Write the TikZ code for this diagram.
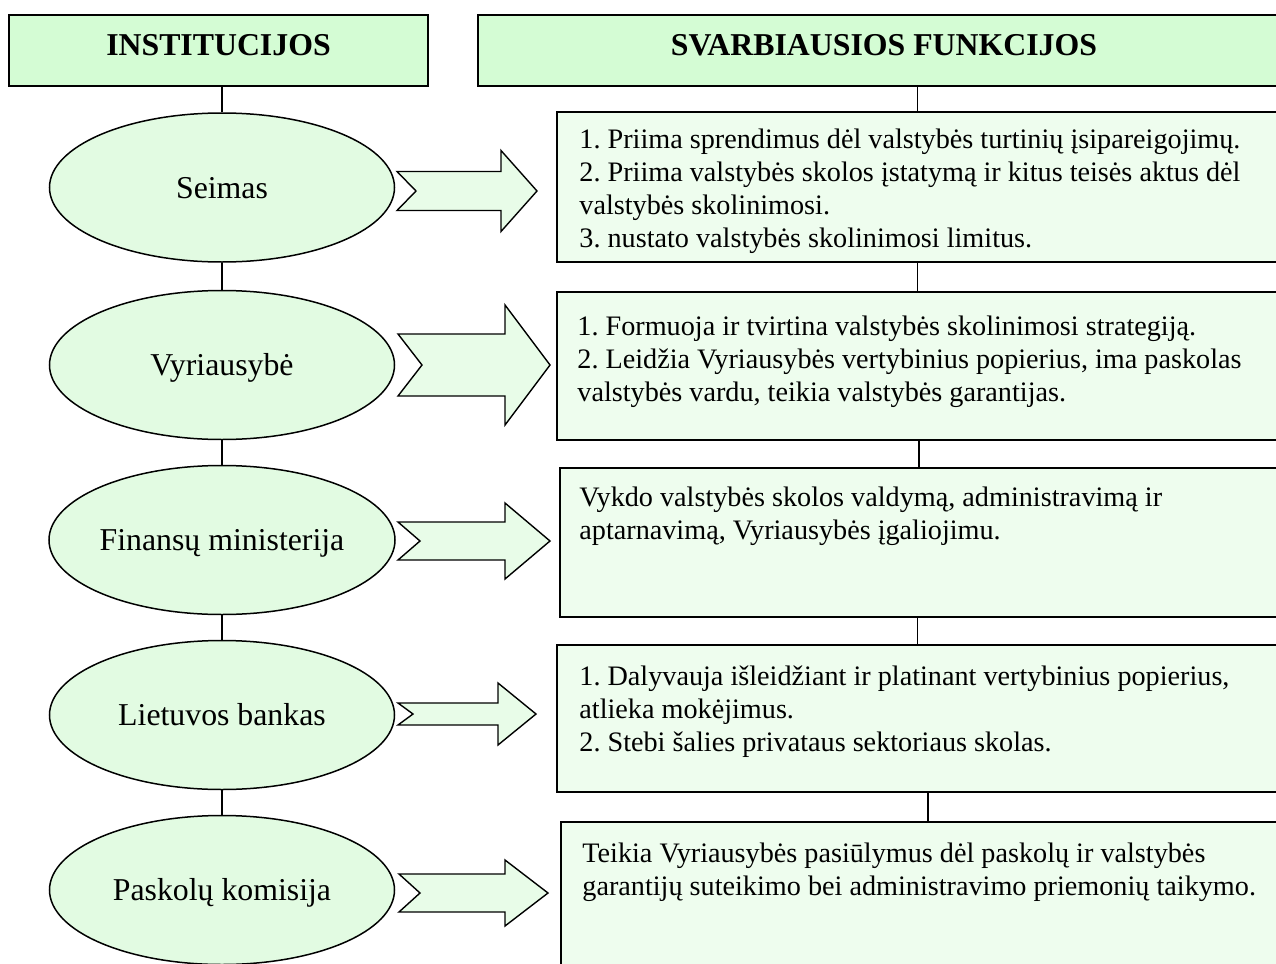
\documentclass[tikz,border=0pt]{standalone}
\usepackage{fontspec}
\setmainfont{Liberation Serif}
\usetikzlibrary{shapes.geometric}

\definecolor{headfill}{RGB}{212,252,212}
\definecolor{instfill}{RGB}{226,251,226}
\definecolor{funcfill}{RGB}{238,253,238}
\definecolor{arrowfill}{RGB}{232,252,232}

% notched block arrow: left x, notch x, head x, tip x, centre y, body half, head half
\newcommand{\funcarrow}[7]{%
  \draw[blockarrow] (#1,#5-#6) -- (#3,#5-#6) -- (#3,#5-#7) -- (#4,#5) -- (#3,#5+#7)
    -- (#3,#5+#6) -- (#1,#5+#6) -- (#2,#5) -- cycle;}

\frenchspacing
\begin{document}
\begin{tikzpicture}[x=0.5pt, y=-0.5pt,
    head/.style = {draw, line width=1.2pt, fill=headfill, inner sep=0pt, minimum height=35.5pt,
      text depth=6pt, font=\fontsize{15.9}{18}\selectfont\bfseries},
    inst/.style = {draw, ellipse, line width=0.75pt, fill=instfill, inner sep=0pt,
      minimum width=172.5pt, minimum height=74.5pt, text height=10.5pt, text depth=0pt,
      font=\fontsize{15.9}{18}\selectfont},
    funcbox/.style = {draw, line width=1pt, fill=funcfill, inner sep=0pt},
    functext/.style = {anchor=north west, inner sep=0pt, align=left,
      font=\fontsize{14.1}{16.5}\selectfont},
    blockarrow/.style = {draw, line width=0.7pt, fill=arrowfill, line join=miter},
    link/.style = {line width=0.75pt}]
  \clip (0,0) rectangle (1276,964);

  % headers
  \node[head, minimum width=209.5pt] (hinst) at (218.5,50.5) {INSTITUCIJOS};
  \node[head, minimum width=406pt] (hfunc) at (884,50.5) {SVARBIAUSIOS FUNKCIJOS};

  % institutions
  \node[inst] (seimas) at (222,187.5) {Seimas};
  \node[inst] (vyr) at (222,365) {Vyriausybė};
  \node[inst] (finmin) at (222,540) {Finansų ministerija};
  \node[inst] (lbank) at (222,715) {Lietuvos bankas};
  \node[inst] (pkom) at (222,890) {Paskolų komisija};

  % functions
  \node[funcbox, minimum width=360.5pt, minimum height=75pt] (f1) at (917.5,187) {};
  \node[funcbox, minimum width=360.5pt, minimum height=74pt] (f2) at (917.5,366) {};
  \node[funcbox, minimum width=359pt, minimum height=74.5pt] (f3) at (919,542.5) {};
  \node[funcbox, minimum width=360.5pt, minimum height=73.5pt] (f4) at (917.5,718.5) {};
  \node[funcbox, minimum width=367pt, minimum height=89pt] (f5) at (928,911) {};

  \node[functext] (t1) at ([xshift=11.5pt,yshift=-9pt]f1.north west)
    {1. Priima sprendimus dėl valstybės turtinių įsipareigojimų.\\
     2. Priima valstybės skolos įstatymą ir kitus teisės aktus dėl\\
     valstybės skolinimosi.\\
     3. nustato valstybės skolinimosi limitus.};
  \node[functext] (t2) at ([xshift=10.5pt,yshift=-12.5pt]f2.north west)
    {1. Formuoja ir tvirtina valstybės skolinimosi strategiją.\\
     2. Leidžia Vyriausybės vertybinius popierius, ima paskolas\\
     valstybės vardu, teikia valstybės garantijas.};
  \node[functext] (t3) at ([xshift=10pt,yshift=-10pt]f3.north west)
    {Vykdo valstybės skolos valdymą, administravimą ir\\
     aptarnavimą, Vyriausybės įgaliojimu.};
  \node[functext] (t4) at ([xshift=11.5pt,yshift=-10.5pt]f4.north west)
    {1. Dalyvauja išleidžiant ir platinant vertybinius popierius,\\
     atlieka mokėjimus.\\
     2. Stebi šalies privataus sektoriaus skolas.};
  \node[functext] (t5) at ([xshift=11pt,yshift=-11pt]f5.north west)
    {Teikia Vyriausybės pasiūlymus dėl paskolų ir valstybės\\
     garantijų suteikimo bei administravimo priemonių taikymo.};

  % vertical links
  \draw[link] (seimas.north) -- (seimas.north |- hinst.south);
  \draw[link] (seimas) -- (vyr);
  \draw[link] (vyr) -- (finmin);
  \draw[link] (finmin) -- (lbank);
  \draw[link] (lbank) -- (pkom);
  \draw[link] (f1.north) -- (f1.north |- hfunc.south);
  \draw[link] (f1) -- (f2);
  \draw[link] (f3.north) -- (f3.north |- f2.south);
  \draw[link] (f4.north) -- (f4.north |- f3.south);
  \draw[link] (f5.north) -- (f5.north |- f4.south);

  % arrows
  \funcarrow{397}{416}{501}{537}{191}{19.5}{40.5}
  \funcarrow{398}{422}{505}{550}{365}{31}{60}
  \funcarrow{398}{420}{505}{550}{541}{19}{38}
  \funcarrow{398}{413}{498}{536}{714}{11}{31}
  \funcarrow{399}{420}{505}{548}{893}{19}{33}
\end{tikzpicture}
\end{document}
